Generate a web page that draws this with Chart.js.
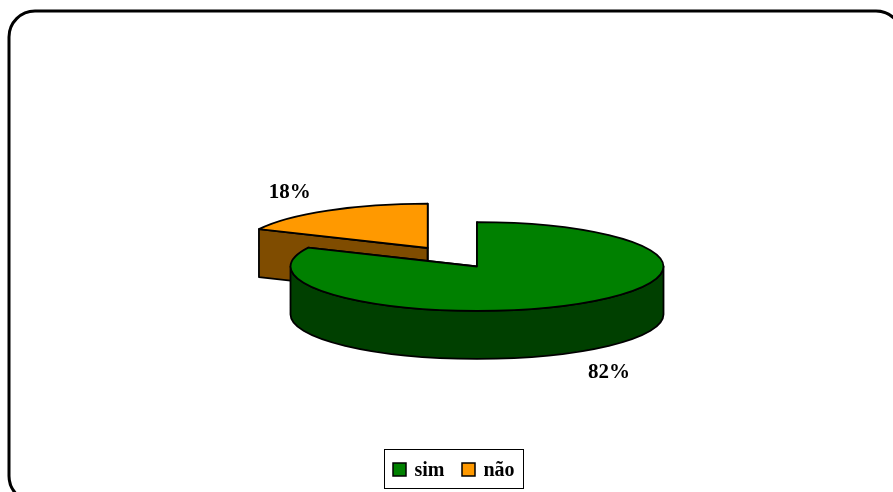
<!DOCTYPE html>
<html lang="pt">
<head>
<meta charset="UTF-8">
<title>sim / não</title>
<script src="https://cdn.jsdelivr.net/npm/chart.js@4"></script>
<style>
  html, body { margin: 0; padding: 0; background: #fff; }
  #wrap { position: relative; width: 893px; height: 492px; }
</style>
</head>
<body>
<div id="wrap"><canvas id="pieChart"></canvas></div>
<script>
const labels = ['sim', 'não'];
const values = [82, 18];
const topColors = ['#008000', '#FF9900'];
const sideColors = ['#004000', '#7F4C00'];
const explode = [0, 46];

// flat circle from chart.js -> tilted ellipse
const TILT_X = 2;
const TILT_Y = 0.476;
const DEPTH = 0.257;       // wall height as share of the ellipse x radius
const LABEL_K = 1.35;      // label distance, share of radius
const FONT = '"Liberation Serif", "Times New Roman", serif';

function sliceGeom(arc) {
    const mid = (arc.startAngle + arc.endAngle) / 2;
    const off = arc.options.offset || 0;
    return {
        mid,
        cx: arc.x + Math.cos(mid) * off * TILT_X,
        cy: arc.y + Math.sin(mid) * off * TILT_Y,
        rx: arc.outerRadius * TILT_X,
        ry: arc.outerRadius * TILT_Y
    };
}

const pie3d = {
    id: 'pie3d',
    beforeDatasetsDraw(chart) {
        const ctx = chart.ctx;
        const meta = chart.getDatasetMeta(0);
        const slices = meta.data.map((arc, i) => Object.assign({ i, arc }, sliceGeom(arc)));
        const depth = slices[0].rx * DEPTH;
        slices.sort((a, b) => a.cy - b.cy); // back first

        ctx.save();
        ctx.lineWidth = 1.8;
        ctx.strokeStyle = '#000';
        ctx.lineJoin = 'round';
        slices.forEach(s => {
            const a0 = s.arc.startAngle, a1 = s.arc.endAngle;
            const pt = a => [s.cx + s.rx * Math.cos(a), s.cy + s.ry * Math.sin(a)];

            // cut faces
            [a0, a1].forEach(a => {
                const [px, py] = pt(a);
                ctx.beginPath();
                ctx.moveTo(s.cx, s.cy);
                ctx.lineTo(px, py);
                ctx.lineTo(px, py + depth);
                ctx.lineTo(s.cx, s.cy + depth);
                ctx.closePath();
                ctx.fillStyle = sideColors[s.i];
                ctx.fill();
                ctx.stroke();
            });

            // outer wall, only the front half
            for (let k = -1; k <= 2; k++) {
                const lo = Math.max(a0, 2 * Math.PI * k);
                const hi = Math.min(a1, 2 * Math.PI * k + Math.PI);
                if (hi <= lo) continue;
                ctx.beginPath();
                ctx.ellipse(s.cx, s.cy, s.rx, s.ry, 0, lo, hi);
                ctx.ellipse(s.cx, s.cy + depth, s.rx, s.ry, 0, hi, lo, true);
                ctx.closePath();
                ctx.fillStyle = sideColors[s.i];
                ctx.fill();
                ctx.stroke();
            }

            // top face
            ctx.beginPath();
            ctx.moveTo(s.cx, s.cy);
            ctx.ellipse(s.cx, s.cy, s.rx, s.ry, 0, a0, a1);
            ctx.closePath();
            ctx.fillStyle = topColors[s.i];
            ctx.fill();
            ctx.stroke();
        });
        ctx.restore();
        return false;
    },
    afterDraw(chart) {
        const ctx = chart.ctx;
        const meta = chart.getDatasetMeta(0);
        const total = values.reduce((a, b) => a + b, 0);
        ctx.save();

        // percent labels
        ctx.font = 'bold 21px ' + FONT;
        ctx.fillStyle = '#000';
        ctx.textAlign = 'center';
        ctx.textBaseline = 'middle';
        meta.data.forEach((arc, i) => {
            const s = sliceGeom(arc);
            const depth = s.rx * DEPTH;
            const sin = Math.sin(s.mid);
            let x = s.cx + Math.cos(s.mid) * s.rx * LABEL_K;
            let y = s.cy + sin * s.ry * LABEL_K;
            y += sin > 0 ? depth + 8 : -5;
            ctx.fillText(Math.round(values[i] / total * 100) + '%', x - 3, y);
        });

        // legend box
        ctx.font = 'bold 20px ' + FONT;
        ctx.textAlign = 'left';
        ctx.textBaseline = 'alphabetic';
        const sq = 13, gapText = 8, gapItem = 18, pad = 9;
        const widths = labels.map(l => ctx.measureText(l).width);
        let w = pad * 2;
        widths.forEach((tw, i) => { w += sq + gapText + tw + (i ? gapItem : 0); });
        const lx = 454 - w / 2, ly = 449, lh = 39;
        ctx.lineWidth = 1;
        ctx.strokeStyle = '#000';
        ctx.strokeRect(Math.round(lx) + 0.5, ly + 0.5, Math.round(w), lh);
        let x = lx + pad;
        ctx.lineWidth = 1.5;
        labels.forEach((l, i) => {
            ctx.fillStyle = topColors[i];
            ctx.fillRect(Math.round(x), 463, sq, sq);
            ctx.strokeRect(Math.round(x), 463, sq, sq);
            ctx.fillStyle = '#000';
            ctx.fillText(l, x + sq + gapText, 476);
            x += sq + gapText + widths[i] + gapItem;
        });

        // rounded outer frame
        ctx.lineWidth = 3;
        ctx.beginPath();
        ctx.roundRect(9, 11, 893, 491, 26);
        ctx.stroke();
        ctx.restore();
    }
};

new Chart(document.getElementById('pieChart'), {
    type: 'pie',
    data: {
        labels: labels,
        datasets: [{
            data: values,
            backgroundColor: topColors,
            borderColor: '#000',
            borderWidth: 1.5,
            offset: explode,
            hoverOffset: 0
        }]
    },
    options: {
        responsive: true,
        maintainAspectRatio: false,
        animation: false,
        events: [],
        layout: { padding: { left: 360, right: 299, top: 120, bottom: 79 } },
        plugins: {
            legend: { display: false },
            tooltip: { enabled: false }
        }
    },
    plugins: [pie3d]
});
</script>
</body>
</html>
